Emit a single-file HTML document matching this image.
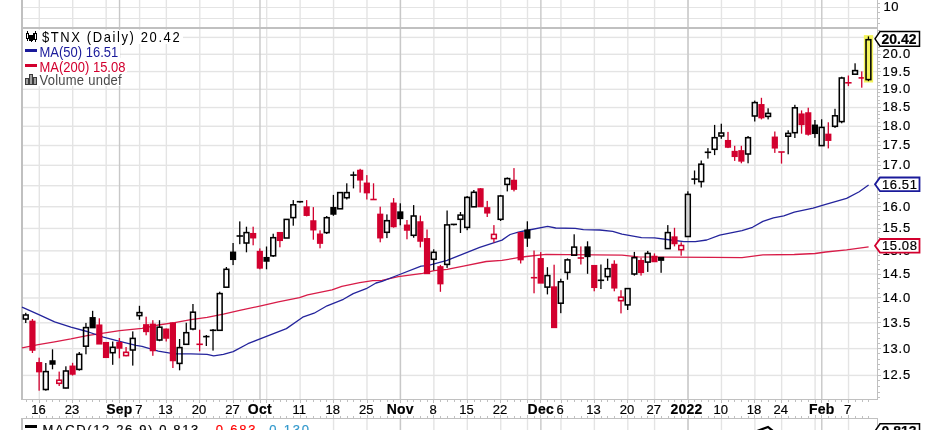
<!DOCTYPE html>
<html><head><meta charset="utf-8"><style>
html,body{margin:0;padding:0;background:#fff;}
body{width:936px;height:430px;position:relative;overflow:hidden;font-family:"Liberation Sans",sans-serif;}
.t{position:absolute;white-space:nowrap;line-height:1;}
svg text{stroke-width:0.2px;paint-order:stroke;}
</style></head><body>
<svg width="936" height="430" viewBox="0 0 936 430" style="position:absolute;left:0;top:0;will-change:transform">
<g shape-rendering="crispEdges">
<rect x="22" y="374.71" width="856" height="1.4" fill="#e4e4e4" shape-rendering="auto"/>
<rect x="22" y="347.91" width="856" height="1.4" fill="#e4e4e4" shape-rendering="auto"/>
<rect x="22" y="322.13" width="856" height="1.4" fill="#e4e4e4" shape-rendering="auto"/>
<rect x="22" y="297.28" width="856" height="1.4" fill="#e4e4e4" shape-rendering="auto"/>
<rect x="22" y="273.30" width="856" height="1.4" fill="#e4e4e4" shape-rendering="auto"/>
<rect x="22" y="250.14" width="856" height="1.4" fill="#e4e4e4" shape-rendering="auto"/>
<rect x="22" y="227.73" width="856" height="1.4" fill="#e4e4e4" shape-rendering="auto"/>
<rect x="22" y="206.04" width="856" height="1.4" fill="#e4e4e4" shape-rendering="auto"/>
<rect x="22" y="185.02" width="856" height="1.4" fill="#e4e4e4" shape-rendering="auto"/>
<rect x="22" y="164.62" width="856" height="1.4" fill="#e4e4e4" shape-rendering="auto"/>
<rect x="22" y="144.81" width="856" height="1.4" fill="#e4e4e4" shape-rendering="auto"/>
<rect x="22" y="125.56" width="856" height="1.4" fill="#e4e4e4" shape-rendering="auto"/>
<rect x="22" y="106.84" width="856" height="1.4" fill="#e4e4e4" shape-rendering="auto"/>
<rect x="22" y="88.62" width="856" height="1.4" fill="#e4e4e4" shape-rendering="auto"/>
<rect x="22" y="70.87" width="856" height="1.4" fill="#e4e4e4" shape-rendering="auto"/>
<rect x="22" y="53.58" width="856" height="1.4" fill="#e4e4e4" shape-rendering="auto"/>
<rect x="22" y="36.70" width="856" height="1.4" fill="#e4e4e4" shape-rendering="auto"/>
<rect x="22" y="7" width="856" height="1" fill="#e4e4e4"/>
<rect x="22" y="18" width="856" height="1" fill="#e4e4e4"/>
</g><g>
<rect x="38.58" y="0" width="1.4" height="399" fill="#e4e4e4"/>
<rect x="38.58" y="418" width="1.4" height="12" fill="#e4e4e4"/>
<rect x="72.02" y="0" width="1.4" height="399" fill="#e4e4e4"/>
<rect x="72.02" y="418" width="1.4" height="12" fill="#e4e4e4"/>
<rect x="105.46" y="0" width="1.4" height="399" fill="#e4e4e4"/>
<rect x="105.46" y="418" width="1.4" height="12" fill="#e4e4e4"/>
<rect x="138.90" y="0" width="1.4" height="399" fill="#e4e4e4"/>
<rect x="138.90" y="418" width="1.4" height="12" fill="#e4e4e4"/>
<rect x="165.65" y="0" width="1.4" height="399" fill="#e4e4e4"/>
<rect x="165.65" y="418" width="1.4" height="12" fill="#e4e4e4"/>
<rect x="199.09" y="0" width="1.4" height="399" fill="#e4e4e4"/>
<rect x="199.09" y="418" width="1.4" height="12" fill="#e4e4e4"/>
<rect x="232.53" y="0" width="1.4" height="399" fill="#e4e4e4"/>
<rect x="232.53" y="418" width="1.4" height="12" fill="#e4e4e4"/>
<rect x="265.97" y="0" width="1.4" height="399" fill="#e4e4e4"/>
<rect x="265.97" y="418" width="1.4" height="12" fill="#e4e4e4"/>
<rect x="299.41" y="0" width="1.4" height="399" fill="#e4e4e4"/>
<rect x="299.41" y="418" width="1.4" height="12" fill="#e4e4e4"/>
<rect x="332.85" y="0" width="1.4" height="399" fill="#e4e4e4"/>
<rect x="332.85" y="418" width="1.4" height="12" fill="#e4e4e4"/>
<rect x="366.29" y="0" width="1.4" height="399" fill="#e4e4e4"/>
<rect x="366.29" y="418" width="1.4" height="12" fill="#e4e4e4"/>
<rect x="399.73" y="0" width="1.4" height="399" fill="#e4e4e4"/>
<rect x="399.73" y="418" width="1.4" height="12" fill="#e4e4e4"/>
<rect x="433.17" y="0" width="1.4" height="399" fill="#e4e4e4"/>
<rect x="433.17" y="418" width="1.4" height="12" fill="#e4e4e4"/>
<rect x="466.61" y="0" width="1.4" height="399" fill="#e4e4e4"/>
<rect x="466.61" y="418" width="1.4" height="12" fill="#e4e4e4"/>
<rect x="500.05" y="0" width="1.4" height="399" fill="#e4e4e4"/>
<rect x="500.05" y="418" width="1.4" height="12" fill="#e4e4e4"/>
<rect x="526.80" y="0" width="1.4" height="399" fill="#e4e4e4"/>
<rect x="526.80" y="418" width="1.4" height="12" fill="#e4e4e4"/>
<rect x="560.24" y="0" width="1.4" height="399" fill="#e4e4e4"/>
<rect x="560.24" y="418" width="1.4" height="12" fill="#e4e4e4"/>
<rect x="593.68" y="0" width="1.4" height="399" fill="#e4e4e4"/>
<rect x="593.68" y="418" width="1.4" height="12" fill="#e4e4e4"/>
<rect x="627.12" y="0" width="1.4" height="399" fill="#e4e4e4"/>
<rect x="627.12" y="418" width="1.4" height="12" fill="#e4e4e4"/>
<rect x="653.88" y="0" width="1.4" height="399" fill="#e4e4e4"/>
<rect x="653.88" y="418" width="1.4" height="12" fill="#e4e4e4"/>
<rect x="687.32" y="0" width="1.4" height="399" fill="#e4e4e4"/>
<rect x="687.32" y="418" width="1.4" height="12" fill="#e4e4e4"/>
<rect x="720.76" y="0" width="1.4" height="399" fill="#e4e4e4"/>
<rect x="720.76" y="418" width="1.4" height="12" fill="#e4e4e4"/>
<rect x="754.20" y="0" width="1.4" height="399" fill="#e4e4e4"/>
<rect x="754.20" y="418" width="1.4" height="12" fill="#e4e4e4"/>
<rect x="780.95" y="0" width="1.4" height="399" fill="#e4e4e4"/>
<rect x="780.95" y="418" width="1.4" height="12" fill="#e4e4e4"/>
<rect x="814.39" y="0" width="1.4" height="399" fill="#e4e4e4"/>
<rect x="814.39" y="418" width="1.4" height="12" fill="#e4e4e4"/>
<rect x="847.83" y="0" width="1.4" height="399" fill="#e4e4e4"/>
<rect x="847.83" y="418" width="1.4" height="12" fill="#e4e4e4"/>
<rect x="118.84" y="0" width="1.4" height="399" fill="#c8c8c8"/>
<rect x="118.84" y="418" width="1.4" height="12" fill="#c8c8c8"/>
<rect x="259.28" y="0" width="1.4" height="399" fill="#c8c8c8"/>
<rect x="259.28" y="418" width="1.4" height="12" fill="#c8c8c8"/>
<rect x="399.73" y="0" width="1.4" height="399" fill="#c8c8c8"/>
<rect x="399.73" y="418" width="1.4" height="12" fill="#c8c8c8"/>
<rect x="540.18" y="0" width="1.4" height="399" fill="#c8c8c8"/>
<rect x="540.18" y="418" width="1.4" height="12" fill="#c8c8c8"/>
<rect x="687.32" y="0" width="1.4" height="399" fill="#c8c8c8"/>
<rect x="687.32" y="418" width="1.4" height="12" fill="#c8c8c8"/>
<rect x="821.08" y="0" width="1.4" height="399" fill="#c8c8c8"/>
<rect x="821.08" y="418" width="1.4" height="12" fill="#c8c8c8"/>
</g><g shape-rendering="crispEdges">
<rect x="21" y="0" width="2" height="400" fill="#c0c0c0"/>
<rect x="877" y="0" width="1" height="400" fill="#c0c0c0"/>
<rect x="22" y="27" width="856" height="2" fill="#c0c0c0"/>
<rect x="22" y="399" width="856" height="1" fill="#c0c0c0"/>
<rect x="21" y="418" width="857" height="1" fill="#c0c0c0"/>
<rect x="21" y="418" width="2" height="12" fill="#c0c0c0"/>
<rect x="877" y="418" width="1" height="12" fill="#c0c0c0"/>
<rect x="26" y="400" width="1" height="2" fill="#c0c0c0"/>
<rect x="26" y="416" width="1" height="2" fill="#c0c0c0"/>
<rect x="32" y="400" width="1" height="2" fill="#c0c0c0"/>
<rect x="32" y="416" width="1" height="2" fill="#c0c0c0"/>
<rect x="39" y="400" width="1" height="3" fill="#c0c0c0"/>
<rect x="39" y="415" width="1" height="3" fill="#c0c0c0"/>
<rect x="46" y="400" width="1" height="2" fill="#c0c0c0"/>
<rect x="46" y="416" width="1" height="2" fill="#c0c0c0"/>
<rect x="52" y="400" width="1" height="2" fill="#c0c0c0"/>
<rect x="52" y="416" width="1" height="2" fill="#c0c0c0"/>
<rect x="59" y="400" width="1" height="2" fill="#c0c0c0"/>
<rect x="59" y="416" width="1" height="2" fill="#c0c0c0"/>
<rect x="66" y="400" width="1" height="2" fill="#c0c0c0"/>
<rect x="66" y="416" width="1" height="2" fill="#c0c0c0"/>
<rect x="72" y="400" width="1" height="3" fill="#c0c0c0"/>
<rect x="72" y="415" width="1" height="3" fill="#c0c0c0"/>
<rect x="79" y="400" width="1" height="2" fill="#c0c0c0"/>
<rect x="79" y="416" width="1" height="2" fill="#c0c0c0"/>
<rect x="86" y="400" width="1" height="2" fill="#c0c0c0"/>
<rect x="86" y="416" width="1" height="2" fill="#c0c0c0"/>
<rect x="92" y="400" width="1" height="2" fill="#c0c0c0"/>
<rect x="92" y="416" width="1" height="2" fill="#c0c0c0"/>
<rect x="99" y="400" width="1" height="2" fill="#c0c0c0"/>
<rect x="99" y="416" width="1" height="2" fill="#c0c0c0"/>
<rect x="106" y="400" width="1" height="3" fill="#c0c0c0"/>
<rect x="106" y="415" width="1" height="3" fill="#c0c0c0"/>
<rect x="112" y="400" width="1" height="2" fill="#c0c0c0"/>
<rect x="112" y="416" width="1" height="2" fill="#c0c0c0"/>
<rect x="119" y="400" width="1" height="3" fill="#c0c0c0"/>
<rect x="119" y="415" width="1" height="3" fill="#c0c0c0"/>
<rect x="126" y="400" width="1" height="2" fill="#c0c0c0"/>
<rect x="126" y="416" width="1" height="2" fill="#c0c0c0"/>
<rect x="133" y="400" width="1" height="2" fill="#c0c0c0"/>
<rect x="133" y="416" width="1" height="2" fill="#c0c0c0"/>
<rect x="139" y="400" width="1" height="3" fill="#c0c0c0"/>
<rect x="139" y="415" width="1" height="3" fill="#c0c0c0"/>
<rect x="146" y="400" width="1" height="2" fill="#c0c0c0"/>
<rect x="146" y="416" width="1" height="2" fill="#c0c0c0"/>
<rect x="153" y="400" width="1" height="2" fill="#c0c0c0"/>
<rect x="153" y="416" width="1" height="2" fill="#c0c0c0"/>
<rect x="159" y="400" width="1" height="2" fill="#c0c0c0"/>
<rect x="159" y="416" width="1" height="2" fill="#c0c0c0"/>
<rect x="166" y="400" width="1" height="3" fill="#c0c0c0"/>
<rect x="166" y="415" width="1" height="3" fill="#c0c0c0"/>
<rect x="173" y="400" width="1" height="2" fill="#c0c0c0"/>
<rect x="173" y="416" width="1" height="2" fill="#c0c0c0"/>
<rect x="179" y="400" width="1" height="2" fill="#c0c0c0"/>
<rect x="179" y="416" width="1" height="2" fill="#c0c0c0"/>
<rect x="186" y="400" width="1" height="2" fill="#c0c0c0"/>
<rect x="186" y="416" width="1" height="2" fill="#c0c0c0"/>
<rect x="193" y="400" width="1" height="2" fill="#c0c0c0"/>
<rect x="193" y="416" width="1" height="2" fill="#c0c0c0"/>
<rect x="199" y="400" width="1" height="3" fill="#c0c0c0"/>
<rect x="199" y="415" width="1" height="3" fill="#c0c0c0"/>
<rect x="206" y="400" width="1" height="2" fill="#c0c0c0"/>
<rect x="206" y="416" width="1" height="2" fill="#c0c0c0"/>
<rect x="213" y="400" width="1" height="2" fill="#c0c0c0"/>
<rect x="213" y="416" width="1" height="2" fill="#c0c0c0"/>
<rect x="219" y="400" width="1" height="2" fill="#c0c0c0"/>
<rect x="219" y="416" width="1" height="2" fill="#c0c0c0"/>
<rect x="226" y="400" width="1" height="2" fill="#c0c0c0"/>
<rect x="226" y="416" width="1" height="2" fill="#c0c0c0"/>
<rect x="233" y="400" width="1" height="3" fill="#c0c0c0"/>
<rect x="233" y="415" width="1" height="3" fill="#c0c0c0"/>
<rect x="240" y="400" width="1" height="2" fill="#c0c0c0"/>
<rect x="240" y="416" width="1" height="2" fill="#c0c0c0"/>
<rect x="246" y="400" width="1" height="2" fill="#c0c0c0"/>
<rect x="246" y="416" width="1" height="2" fill="#c0c0c0"/>
<rect x="253" y="400" width="1" height="2" fill="#c0c0c0"/>
<rect x="253" y="416" width="1" height="2" fill="#c0c0c0"/>
<rect x="260" y="400" width="1" height="3" fill="#c0c0c0"/>
<rect x="260" y="415" width="1" height="3" fill="#c0c0c0"/>
<rect x="266" y="400" width="1" height="3" fill="#c0c0c0"/>
<rect x="266" y="415" width="1" height="3" fill="#c0c0c0"/>
<rect x="273" y="400" width="1" height="2" fill="#c0c0c0"/>
<rect x="273" y="416" width="1" height="2" fill="#c0c0c0"/>
<rect x="280" y="400" width="1" height="2" fill="#c0c0c0"/>
<rect x="280" y="416" width="1" height="2" fill="#c0c0c0"/>
<rect x="286" y="400" width="1" height="2" fill="#c0c0c0"/>
<rect x="286" y="416" width="1" height="2" fill="#c0c0c0"/>
<rect x="293" y="400" width="1" height="2" fill="#c0c0c0"/>
<rect x="293" y="416" width="1" height="2" fill="#c0c0c0"/>
<rect x="300" y="400" width="1" height="3" fill="#c0c0c0"/>
<rect x="300" y="415" width="1" height="3" fill="#c0c0c0"/>
<rect x="306" y="400" width="1" height="2" fill="#c0c0c0"/>
<rect x="306" y="416" width="1" height="2" fill="#c0c0c0"/>
<rect x="313" y="400" width="1" height="2" fill="#c0c0c0"/>
<rect x="313" y="416" width="1" height="2" fill="#c0c0c0"/>
<rect x="320" y="400" width="1" height="2" fill="#c0c0c0"/>
<rect x="320" y="416" width="1" height="2" fill="#c0c0c0"/>
<rect x="326" y="400" width="1" height="2" fill="#c0c0c0"/>
<rect x="326" y="416" width="1" height="2" fill="#c0c0c0"/>
<rect x="333" y="400" width="1" height="3" fill="#c0c0c0"/>
<rect x="333" y="415" width="1" height="3" fill="#c0c0c0"/>
<rect x="340" y="400" width="1" height="2" fill="#c0c0c0"/>
<rect x="340" y="416" width="1" height="2" fill="#c0c0c0"/>
<rect x="347" y="400" width="1" height="2" fill="#c0c0c0"/>
<rect x="347" y="416" width="1" height="2" fill="#c0c0c0"/>
<rect x="353" y="400" width="1" height="2" fill="#c0c0c0"/>
<rect x="353" y="416" width="1" height="2" fill="#c0c0c0"/>
<rect x="360" y="400" width="1" height="2" fill="#c0c0c0"/>
<rect x="360" y="416" width="1" height="2" fill="#c0c0c0"/>
<rect x="367" y="400" width="1" height="3" fill="#c0c0c0"/>
<rect x="367" y="415" width="1" height="3" fill="#c0c0c0"/>
<rect x="373" y="400" width="1" height="2" fill="#c0c0c0"/>
<rect x="373" y="416" width="1" height="2" fill="#c0c0c0"/>
<rect x="380" y="400" width="1" height="2" fill="#c0c0c0"/>
<rect x="380" y="416" width="1" height="2" fill="#c0c0c0"/>
<rect x="387" y="400" width="1" height="2" fill="#c0c0c0"/>
<rect x="387" y="416" width="1" height="2" fill="#c0c0c0"/>
<rect x="393" y="400" width="1" height="2" fill="#c0c0c0"/>
<rect x="393" y="416" width="1" height="2" fill="#c0c0c0"/>
<rect x="400" y="400" width="1" height="3" fill="#c0c0c0"/>
<rect x="400" y="415" width="1" height="3" fill="#c0c0c0"/>
<rect x="407" y="400" width="1" height="2" fill="#c0c0c0"/>
<rect x="407" y="416" width="1" height="2" fill="#c0c0c0"/>
<rect x="413" y="400" width="1" height="2" fill="#c0c0c0"/>
<rect x="413" y="416" width="1" height="2" fill="#c0c0c0"/>
<rect x="420" y="400" width="1" height="2" fill="#c0c0c0"/>
<rect x="420" y="416" width="1" height="2" fill="#c0c0c0"/>
<rect x="427" y="400" width="1" height="2" fill="#c0c0c0"/>
<rect x="427" y="416" width="1" height="2" fill="#c0c0c0"/>
<rect x="433" y="400" width="1" height="3" fill="#c0c0c0"/>
<rect x="433" y="415" width="1" height="3" fill="#c0c0c0"/>
<rect x="440" y="400" width="1" height="2" fill="#c0c0c0"/>
<rect x="440" y="416" width="1" height="2" fill="#c0c0c0"/>
<rect x="447" y="400" width="1" height="2" fill="#c0c0c0"/>
<rect x="447" y="416" width="1" height="2" fill="#c0c0c0"/>
<rect x="454" y="400" width="1" height="2" fill="#c0c0c0"/>
<rect x="454" y="416" width="1" height="2" fill="#c0c0c0"/>
<rect x="460" y="400" width="1" height="2" fill="#c0c0c0"/>
<rect x="460" y="416" width="1" height="2" fill="#c0c0c0"/>
<rect x="467" y="400" width="1" height="3" fill="#c0c0c0"/>
<rect x="467" y="415" width="1" height="3" fill="#c0c0c0"/>
<rect x="474" y="400" width="1" height="2" fill="#c0c0c0"/>
<rect x="474" y="416" width="1" height="2" fill="#c0c0c0"/>
<rect x="480" y="400" width="1" height="2" fill="#c0c0c0"/>
<rect x="480" y="416" width="1" height="2" fill="#c0c0c0"/>
<rect x="487" y="400" width="1" height="2" fill="#c0c0c0"/>
<rect x="487" y="416" width="1" height="2" fill="#c0c0c0"/>
<rect x="494" y="400" width="1" height="2" fill="#c0c0c0"/>
<rect x="494" y="416" width="1" height="2" fill="#c0c0c0"/>
<rect x="500" y="400" width="1" height="3" fill="#c0c0c0"/>
<rect x="500" y="415" width="1" height="3" fill="#c0c0c0"/>
<rect x="507" y="400" width="1" height="2" fill="#c0c0c0"/>
<rect x="507" y="416" width="1" height="2" fill="#c0c0c0"/>
<rect x="514" y="400" width="1" height="2" fill="#c0c0c0"/>
<rect x="514" y="416" width="1" height="2" fill="#c0c0c0"/>
<rect x="520" y="400" width="1" height="2" fill="#c0c0c0"/>
<rect x="520" y="416" width="1" height="2" fill="#c0c0c0"/>
<rect x="527" y="400" width="1" height="3" fill="#c0c0c0"/>
<rect x="527" y="415" width="1" height="3" fill="#c0c0c0"/>
<rect x="534" y="400" width="1" height="2" fill="#c0c0c0"/>
<rect x="534" y="416" width="1" height="2" fill="#c0c0c0"/>
<rect x="540" y="400" width="1" height="3" fill="#c0c0c0"/>
<rect x="540" y="415" width="1" height="3" fill="#c0c0c0"/>
<rect x="547" y="400" width="1" height="2" fill="#c0c0c0"/>
<rect x="547" y="416" width="1" height="2" fill="#c0c0c0"/>
<rect x="554" y="400" width="1" height="2" fill="#c0c0c0"/>
<rect x="554" y="416" width="1" height="2" fill="#c0c0c0"/>
<rect x="561" y="400" width="1" height="3" fill="#c0c0c0"/>
<rect x="561" y="415" width="1" height="3" fill="#c0c0c0"/>
<rect x="567" y="400" width="1" height="2" fill="#c0c0c0"/>
<rect x="567" y="416" width="1" height="2" fill="#c0c0c0"/>
<rect x="574" y="400" width="1" height="2" fill="#c0c0c0"/>
<rect x="574" y="416" width="1" height="2" fill="#c0c0c0"/>
<rect x="581" y="400" width="1" height="2" fill="#c0c0c0"/>
<rect x="581" y="416" width="1" height="2" fill="#c0c0c0"/>
<rect x="587" y="400" width="1" height="2" fill="#c0c0c0"/>
<rect x="587" y="416" width="1" height="2" fill="#c0c0c0"/>
<rect x="594" y="400" width="1" height="3" fill="#c0c0c0"/>
<rect x="594" y="415" width="1" height="3" fill="#c0c0c0"/>
<rect x="601" y="400" width="1" height="2" fill="#c0c0c0"/>
<rect x="601" y="416" width="1" height="2" fill="#c0c0c0"/>
<rect x="607" y="400" width="1" height="2" fill="#c0c0c0"/>
<rect x="607" y="416" width="1" height="2" fill="#c0c0c0"/>
<rect x="614" y="400" width="1" height="2" fill="#c0c0c0"/>
<rect x="614" y="416" width="1" height="2" fill="#c0c0c0"/>
<rect x="621" y="400" width="1" height="2" fill="#c0c0c0"/>
<rect x="621" y="416" width="1" height="2" fill="#c0c0c0"/>
<rect x="627" y="400" width="1" height="3" fill="#c0c0c0"/>
<rect x="627" y="415" width="1" height="3" fill="#c0c0c0"/>
<rect x="634" y="400" width="1" height="2" fill="#c0c0c0"/>
<rect x="634" y="416" width="1" height="2" fill="#c0c0c0"/>
<rect x="641" y="400" width="1" height="2" fill="#c0c0c0"/>
<rect x="641" y="416" width="1" height="2" fill="#c0c0c0"/>
<rect x="647" y="400" width="1" height="2" fill="#c0c0c0"/>
<rect x="647" y="416" width="1" height="2" fill="#c0c0c0"/>
<rect x="654" y="400" width="1" height="3" fill="#c0c0c0"/>
<rect x="654" y="415" width="1" height="3" fill="#c0c0c0"/>
<rect x="661" y="400" width="1" height="2" fill="#c0c0c0"/>
<rect x="661" y="416" width="1" height="2" fill="#c0c0c0"/>
<rect x="668" y="400" width="1" height="2" fill="#c0c0c0"/>
<rect x="668" y="416" width="1" height="2" fill="#c0c0c0"/>
<rect x="674" y="400" width="1" height="2" fill="#c0c0c0"/>
<rect x="674" y="416" width="1" height="2" fill="#c0c0c0"/>
<rect x="681" y="400" width="1" height="2" fill="#c0c0c0"/>
<rect x="681" y="416" width="1" height="2" fill="#c0c0c0"/>
<rect x="688" y="400" width="1" height="3" fill="#c0c0c0"/>
<rect x="688" y="415" width="1" height="3" fill="#c0c0c0"/>
<rect x="694" y="400" width="1" height="2" fill="#c0c0c0"/>
<rect x="694" y="416" width="1" height="2" fill="#c0c0c0"/>
<rect x="701" y="400" width="1" height="2" fill="#c0c0c0"/>
<rect x="701" y="416" width="1" height="2" fill="#c0c0c0"/>
<rect x="708" y="400" width="1" height="2" fill="#c0c0c0"/>
<rect x="708" y="416" width="1" height="2" fill="#c0c0c0"/>
<rect x="714" y="400" width="1" height="2" fill="#c0c0c0"/>
<rect x="714" y="416" width="1" height="2" fill="#c0c0c0"/>
<rect x="721" y="400" width="1" height="3" fill="#c0c0c0"/>
<rect x="721" y="415" width="1" height="3" fill="#c0c0c0"/>
<rect x="728" y="400" width="1" height="2" fill="#c0c0c0"/>
<rect x="728" y="416" width="1" height="2" fill="#c0c0c0"/>
<rect x="734" y="400" width="1" height="2" fill="#c0c0c0"/>
<rect x="734" y="416" width="1" height="2" fill="#c0c0c0"/>
<rect x="741" y="400" width="1" height="2" fill="#c0c0c0"/>
<rect x="741" y="416" width="1" height="2" fill="#c0c0c0"/>
<rect x="748" y="400" width="1" height="2" fill="#c0c0c0"/>
<rect x="748" y="416" width="1" height="2" fill="#c0c0c0"/>
<rect x="754" y="400" width="1" height="3" fill="#c0c0c0"/>
<rect x="754" y="415" width="1" height="3" fill="#c0c0c0"/>
<rect x="761" y="400" width="1" height="2" fill="#c0c0c0"/>
<rect x="761" y="416" width="1" height="2" fill="#c0c0c0"/>
<rect x="768" y="400" width="1" height="2" fill="#c0c0c0"/>
<rect x="768" y="416" width="1" height="2" fill="#c0c0c0"/>
<rect x="775" y="400" width="1" height="2" fill="#c0c0c0"/>
<rect x="775" y="416" width="1" height="2" fill="#c0c0c0"/>
<rect x="781" y="400" width="1" height="3" fill="#c0c0c0"/>
<rect x="781" y="415" width="1" height="3" fill="#c0c0c0"/>
<rect x="788" y="400" width="1" height="2" fill="#c0c0c0"/>
<rect x="788" y="416" width="1" height="2" fill="#c0c0c0"/>
<rect x="795" y="400" width="1" height="2" fill="#c0c0c0"/>
<rect x="795" y="416" width="1" height="2" fill="#c0c0c0"/>
<rect x="801" y="400" width="1" height="2" fill="#c0c0c0"/>
<rect x="801" y="416" width="1" height="2" fill="#c0c0c0"/>
<rect x="808" y="400" width="1" height="2" fill="#c0c0c0"/>
<rect x="808" y="416" width="1" height="2" fill="#c0c0c0"/>
<rect x="815" y="400" width="1" height="3" fill="#c0c0c0"/>
<rect x="815" y="415" width="1" height="3" fill="#c0c0c0"/>
<rect x="821" y="400" width="1" height="3" fill="#c0c0c0"/>
<rect x="821" y="415" width="1" height="3" fill="#c0c0c0"/>
<rect x="828" y="400" width="1" height="2" fill="#c0c0c0"/>
<rect x="828" y="416" width="1" height="2" fill="#c0c0c0"/>
<rect x="835" y="400" width="1" height="2" fill="#c0c0c0"/>
<rect x="835" y="416" width="1" height="2" fill="#c0c0c0"/>
<rect x="841" y="400" width="1" height="2" fill="#c0c0c0"/>
<rect x="841" y="416" width="1" height="2" fill="#c0c0c0"/>
<rect x="848" y="400" width="1" height="3" fill="#c0c0c0"/>
<rect x="848" y="415" width="1" height="3" fill="#c0c0c0"/>
<rect x="855" y="400" width="1" height="2" fill="#c0c0c0"/>
<rect x="855" y="416" width="1" height="2" fill="#c0c0c0"/>
<rect x="862" y="400" width="1" height="2" fill="#c0c0c0"/>
<rect x="862" y="416" width="1" height="2" fill="#c0c0c0"/>
<rect x="868" y="400" width="1" height="2" fill="#c0c0c0"/>
<rect x="868" y="416" width="1" height="2" fill="#c0c0c0"/>
<rect x="878" y="397" width="2" height="1" fill="#c0c0c0"/>
<rect x="878" y="392" width="2" height="1" fill="#c0c0c0"/>
<rect x="878" y="386" width="2" height="1" fill="#c0c0c0"/>
<rect x="878" y="380" width="2" height="1" fill="#c0c0c0"/>
<rect x="878" y="375" width="3" height="1" fill="#c0c0c0"/>
<rect x="878" y="369" width="2" height="1" fill="#c0c0c0"/>
<rect x="878" y="364" width="2" height="1" fill="#c0c0c0"/>
<rect x="878" y="359" width="2" height="1" fill="#c0c0c0"/>
<rect x="878" y="353" width="2" height="1" fill="#c0c0c0"/>
<rect x="878" y="348" width="3" height="1" fill="#c0c0c0"/>
<rect x="878" y="343" width="2" height="1" fill="#c0c0c0"/>
<rect x="878" y="338" width="2" height="1" fill="#c0c0c0"/>
<rect x="878" y="333" width="2" height="1" fill="#c0c0c0"/>
<rect x="878" y="327" width="2" height="1" fill="#c0c0c0"/>
<rect x="878" y="322" width="3" height="1" fill="#c0c0c0"/>
<rect x="878" y="317" width="2" height="1" fill="#c0c0c0"/>
<rect x="878" y="312" width="2" height="1" fill="#c0c0c0"/>
<rect x="878" y="307" width="2" height="1" fill="#c0c0c0"/>
<rect x="878" y="302" width="2" height="1" fill="#c0c0c0"/>
<rect x="878" y="297" width="3" height="1" fill="#c0c0c0"/>
<rect x="878" y="293" width="2" height="1" fill="#c0c0c0"/>
<rect x="878" y="288" width="2" height="1" fill="#c0c0c0"/>
<rect x="878" y="283" width="2" height="1" fill="#c0c0c0"/>
<rect x="878" y="278" width="2" height="1" fill="#c0c0c0"/>
<rect x="878" y="274" width="3" height="1" fill="#c0c0c0"/>
<rect x="878" y="269" width="2" height="1" fill="#c0c0c0"/>
<rect x="878" y="264" width="2" height="1" fill="#c0c0c0"/>
<rect x="878" y="260" width="2" height="1" fill="#c0c0c0"/>
<rect x="878" y="255" width="2" height="1" fill="#c0c0c0"/>
<rect x="878" y="250" width="3" height="1" fill="#c0c0c0"/>
<rect x="878" y="246" width="2" height="1" fill="#c0c0c0"/>
<rect x="878" y="241" width="2" height="1" fill="#c0c0c0"/>
<rect x="878" y="237" width="2" height="1" fill="#c0c0c0"/>
<rect x="878" y="232" width="2" height="1" fill="#c0c0c0"/>
<rect x="878" y="228" width="3" height="1" fill="#c0c0c0"/>
<rect x="878" y="224" width="2" height="1" fill="#c0c0c0"/>
<rect x="878" y="219" width="2" height="1" fill="#c0c0c0"/>
<rect x="878" y="215" width="2" height="1" fill="#c0c0c0"/>
<rect x="878" y="211" width="2" height="1" fill="#c0c0c0"/>
<rect x="878" y="206" width="3" height="1" fill="#c0c0c0"/>
<rect x="878" y="202" width="2" height="1" fill="#c0c0c0"/>
<rect x="878" y="198" width="2" height="1" fill="#c0c0c0"/>
<rect x="878" y="194" width="2" height="1" fill="#c0c0c0"/>
<rect x="878" y="189" width="2" height="1" fill="#c0c0c0"/>
<rect x="878" y="185" width="3" height="1" fill="#c0c0c0"/>
<rect x="878" y="181" width="2" height="1" fill="#c0c0c0"/>
<rect x="878" y="177" width="2" height="1" fill="#c0c0c0"/>
<rect x="878" y="173" width="2" height="1" fill="#c0c0c0"/>
<rect x="878" y="169" width="2" height="1" fill="#c0c0c0"/>
<rect x="878" y="165" width="3" height="1" fill="#c0c0c0"/>
<rect x="878" y="161" width="2" height="1" fill="#c0c0c0"/>
<rect x="878" y="157" width="2" height="1" fill="#c0c0c0"/>
<rect x="878" y="153" width="2" height="1" fill="#c0c0c0"/>
<rect x="878" y="149" width="2" height="1" fill="#c0c0c0"/>
<rect x="878" y="145" width="3" height="1" fill="#c0c0c0"/>
<rect x="878" y="141" width="2" height="1" fill="#c0c0c0"/>
<rect x="878" y="137" width="2" height="1" fill="#c0c0c0"/>
<rect x="878" y="133" width="2" height="1" fill="#c0c0c0"/>
<rect x="878" y="130" width="2" height="1" fill="#c0c0c0"/>
<rect x="878" y="126" width="3" height="1" fill="#c0c0c0"/>
<rect x="878" y="122" width="2" height="1" fill="#c0c0c0"/>
<rect x="878" y="118" width="2" height="1" fill="#c0c0c0"/>
<rect x="878" y="114" width="2" height="1" fill="#c0c0c0"/>
<rect x="878" y="111" width="2" height="1" fill="#c0c0c0"/>
<rect x="878" y="107" width="3" height="1" fill="#c0c0c0"/>
<rect x="878" y="103" width="2" height="1" fill="#c0c0c0"/>
<rect x="878" y="100" width="2" height="1" fill="#c0c0c0"/>
<rect x="878" y="96" width="2" height="1" fill="#c0c0c0"/>
<rect x="878" y="92" width="2" height="1" fill="#c0c0c0"/>
<rect x="878" y="89" width="3" height="1" fill="#c0c0c0"/>
<rect x="878" y="85" width="2" height="1" fill="#c0c0c0"/>
<rect x="878" y="82" width="2" height="1" fill="#c0c0c0"/>
<rect x="878" y="78" width="2" height="1" fill="#c0c0c0"/>
<rect x="878" y="75" width="2" height="1" fill="#c0c0c0"/>
<rect x="878" y="71" width="3" height="1" fill="#c0c0c0"/>
<rect x="878" y="68" width="2" height="1" fill="#c0c0c0"/>
<rect x="878" y="64" width="2" height="1" fill="#c0c0c0"/>
<rect x="878" y="61" width="2" height="1" fill="#c0c0c0"/>
<rect x="878" y="57" width="2" height="1" fill="#c0c0c0"/>
<rect x="878" y="54" width="3" height="1" fill="#c0c0c0"/>
<rect x="878" y="50" width="2" height="1" fill="#c0c0c0"/>
<rect x="878" y="47" width="2" height="1" fill="#c0c0c0"/>
<rect x="878" y="44" width="2" height="1" fill="#c0c0c0"/>
<rect x="878" y="40" width="2" height="1" fill="#c0c0c0"/>
<rect x="878" y="37" width="3" height="1" fill="#c0c0c0"/>
<rect x="878" y="34" width="2" height="1" fill="#c0c0c0"/>
<rect x="878" y="30" width="2" height="1" fill="#c0c0c0"/>
<rect x="878" y="3" width="2" height="1" fill="#c0c0c0"/>
<rect x="878" y="7" width="2" height="1" fill="#c0c0c0"/>
<rect x="878" y="12" width="2" height="1" fill="#c0c0c0"/>
<rect x="878" y="18" width="2" height="1" fill="#c0c0c0"/>
<rect x="878" y="23" width="2" height="1" fill="#c0c0c0"/>
</g>
<polyline points="22.0,347.8 38.3,344.6 54.6,341.8 70.9,338.9 87.1,335.6 103.4,333.2 119.7,330.7 142.0,328.4 158.3,325.0 174.6,322.6 190.9,319.6 207.1,317.4 223.4,314.1 239.7,310.4 262.0,305.6 278.3,301.8 299.5,297.7 307.6,294.8 332.0,289.9 341.8,286.3 359.7,282.7 372.7,280.6 382.0,280.3 398.3,276.6 422.7,273.4 434.1,270.6 447.1,269.3 463.4,266.1 486.2,261.5 502.0,260.4 518.3,257.7 526.4,256.5 546.0,254.4 567.1,254.6 622.0,255.2 638.3,256.8 670.9,257.1 713.2,257.4 742.0,257.6 762.9,254.9 794.3,254.5 815.2,253.5 825.7,252.0 846.6,249.9 868.6,246.8" fill="none" stroke="#d81c48" stroke-width="1.3" stroke-linejoin="round"/>
<polyline points="22.0,307.1 38.3,314.4 54.6,321.8 70.9,327.1 87.1,331.5 103.4,337.2 119.7,341.3 136.0,345.4 142.0,346.4 158.3,351.1 174.6,353.8 190.9,353.8 207.1,354.3 213.7,355.8 223.4,354.3 233.2,351.6 247.9,343.7 262.0,338.2 286.4,328.6 302.7,317.2 314.1,313.2 327.1,305.8 343.4,299.3 353.2,293.6 366.2,288.7 376.0,283.0 382.0,281.3 398.3,275.0 421.1,266.1 427.6,265.7 447.1,260.4 463.4,253.8 479.7,247.3 502.0,240.1 510.1,234.5 518.3,232.1 526.4,230.5 547.6,226.4 555.7,228.0 575.3,228.4 583.4,229.7 599.7,230.0 612.7,231.3 622.0,234.1 641.5,237.6 654.6,237.9 670.9,240.0 683.9,241.6 695.3,241.6 706.7,240.0 719.7,235.1 742.0,230.6 752.5,227.3 762.9,221.4 773.4,217.9 783.8,215.8 794.3,212.2 813.1,208.1 825.7,204.3 846.6,198.4 859.2,191.7 868.6,185.0" fill="none" stroke="#24249c" stroke-width="1.3" stroke-linejoin="round"/>
<g>
<rect x="25.10" y="312.80" width="1.3" height="2.20" fill="#000000"/>
<rect x="25.10" y="319.00" width="1.3" height="4.00" fill="#000000"/>
<rect x="23.35" y="315.00" width="4.8" height="4.00" fill="none" stroke="#000000" stroke-width="1.55"/>
<rect x="31.79" y="319.00" width="1.3" height="2.40" fill="#d2002e"/>
<rect x="31.79" y="350.00" width="1.3" height="3.00" fill="#d2002e"/>
<rect x="29.34" y="320.65" width="6.2" height="30.10" fill="#d2002e"/>
<rect x="38.48" y="357.70" width="1.3" height="5.10" fill="#d2002e"/>
<rect x="38.48" y="371.60" width="1.3" height="19.10" fill="#d2002e"/>
<rect x="36.03" y="362.05" width="6.2" height="10.30" fill="#d2002e"/>
<rect x="45.17" y="363.00" width="1.3" height="8.60" fill="#000000"/>
<rect x="45.17" y="389.50" width="1.3" height="1.20" fill="#000000"/>
<rect x="43.42" y="371.60" width="4.8" height="17.90" fill="none" stroke="#000000" stroke-width="1.55"/>
<rect x="51.86" y="349.30" width="1.3" height="11.70" fill="#000000"/>
<rect x="51.86" y="364.00" width="1.3" height="5.30" fill="#000000"/>
<rect x="49.41" y="360.25" width="6.2" height="4.50" fill="#000000"/>
<rect x="58.54" y="371.60" width="1.3" height="8.60" fill="#d2002e"/>
<rect x="58.54" y="383.30" width="1.3" height="2.70" fill="#d2002e"/>
<rect x="56.79" y="380.20" width="4.8" height="3.10" fill="none" stroke="#d2002e" stroke-width="1.55"/>
<rect x="65.23" y="366.30" width="1.3" height="4.70" fill="#000000"/>
<rect x="65.23" y="388.00" width="1.3" height="0.40" fill="#000000"/>
<rect x="63.48" y="371.00" width="4.8" height="17.00" fill="none" stroke="#000000" stroke-width="1.55"/>
<rect x="71.92" y="362.80" width="1.3" height="3.50" fill="#d2002e"/>
<rect x="71.92" y="374.00" width="1.3" height="1.60" fill="#d2002e"/>
<rect x="69.47" y="365.55" width="6.2" height="9.20" fill="#d2002e"/>
<rect x="78.61" y="352.00" width="1.3" height="2.30" fill="#000000"/>
<rect x="78.61" y="369.40" width="1.3" height="1.20" fill="#000000"/>
<rect x="76.86" y="354.30" width="4.8" height="15.10" fill="none" stroke="#000000" stroke-width="1.55"/>
<rect x="85.30" y="322.90" width="1.3" height="4.70" fill="#000000"/>
<rect x="85.30" y="346.20" width="1.3" height="8.10" fill="#000000"/>
<rect x="83.55" y="327.60" width="4.8" height="18.60" fill="none" stroke="#000000" stroke-width="1.55"/>
<rect x="91.98" y="310.80" width="1.3" height="7.00" fill="#000000"/>
<rect x="89.53" y="317.05" width="6.2" height="11.30" fill="#000000"/>
<rect x="98.67" y="318.30" width="1.3" height="6.90" fill="#d2002e"/>
<rect x="96.22" y="324.45" width="6.2" height="20.10" fill="#d2002e"/>
<rect x="102.91" y="341.95" width="6.2" height="16.10" fill="#d2002e"/>
<rect x="112.05" y="341.50" width="1.3" height="5.80" fill="#000000"/>
<rect x="112.05" y="352.70" width="1.3" height="12.10" fill="#000000"/>
<rect x="110.30" y="347.30" width="4.8" height="5.40" fill="none" stroke="#000000" stroke-width="1.55"/>
<rect x="118.74" y="338.00" width="1.3" height="4.70" fill="#d2002e"/>
<rect x="118.74" y="348.00" width="1.3" height="10.30" fill="#d2002e"/>
<rect x="116.29" y="341.95" width="6.2" height="6.80" fill="#d2002e"/>
<rect x="125.42" y="347.00" width="1.3" height="5.30" fill="#d2002e"/>
<rect x="125.42" y="355.60" width="1.3" height="0.70" fill="#d2002e"/>
<rect x="123.67" y="352.30" width="4.8" height="3.30" fill="none" stroke="#d2002e" stroke-width="1.55"/>
<rect x="132.11" y="331.40" width="1.3" height="7.00" fill="#000000"/>
<rect x="132.11" y="350.00" width="1.3" height="15.60" fill="#000000"/>
<rect x="130.36" y="338.40" width="4.8" height="11.60" fill="none" stroke="#000000" stroke-width="1.55"/>
<rect x="138.80" y="305.80" width="1.3" height="6.80" fill="#000000"/>
<rect x="138.80" y="315.60" width="1.3" height="4.20" fill="#000000"/>
<rect x="137.05" y="312.60" width="4.8" height="3.00" fill="none" stroke="#000000" stroke-width="1.55"/>
<rect x="145.49" y="316.70" width="1.3" height="8.20" fill="#d2002e"/>
<rect x="145.49" y="331.40" width="1.3" height="3.90" fill="#d2002e"/>
<rect x="143.04" y="324.15" width="6.2" height="8.00" fill="#d2002e"/>
<rect x="152.18" y="320.20" width="1.3" height="4.20" fill="#d2002e"/>
<rect x="152.18" y="350.50" width="1.3" height="5.30" fill="#d2002e"/>
<rect x="149.73" y="323.65" width="6.2" height="27.60" fill="#d2002e"/>
<rect x="158.86" y="320.20" width="1.3" height="7.00" fill="#000000"/>
<rect x="158.86" y="340.00" width="1.3" height="1.20" fill="#000000"/>
<rect x="157.11" y="327.20" width="4.8" height="12.80" fill="none" stroke="#000000" stroke-width="1.55"/>
<rect x="165.55" y="328.50" width="1.3" height="0.80" fill="#d2002e"/>
<rect x="165.55" y="338.00" width="1.3" height="3.50" fill="#d2002e"/>
<rect x="163.10" y="328.55" width="6.2" height="10.20" fill="#d2002e"/>
<rect x="172.24" y="322.60" width="1.3" height="0.60" fill="#d2002e"/>
<rect x="172.24" y="360.50" width="1.3" height="7.50" fill="#d2002e"/>
<rect x="169.79" y="322.45" width="6.2" height="38.80" fill="#d2002e"/>
<rect x="178.93" y="339.00" width="1.3" height="8.60" fill="#000000"/>
<rect x="178.93" y="363.40" width="1.3" height="6.90" fill="#000000"/>
<rect x="177.18" y="347.60" width="4.8" height="15.80" fill="none" stroke="#000000" stroke-width="1.55"/>
<rect x="185.62" y="322.70" width="1.3" height="10.00" fill="#000000"/>
<rect x="185.62" y="344.30" width="1.3" height="0.50" fill="#000000"/>
<rect x="183.87" y="332.70" width="4.8" height="11.60" fill="none" stroke="#000000" stroke-width="1.55"/>
<rect x="192.30" y="304.00" width="1.3" height="8.20" fill="#000000"/>
<rect x="192.30" y="329.00" width="1.3" height="1.30" fill="#000000"/>
<rect x="190.55" y="312.20" width="4.8" height="16.80" fill="none" stroke="#000000" stroke-width="1.55"/>
<rect x="198.99" y="329.70" width="1.3" height="21.60" fill="#d2002e"/>
<rect x="196.44" y="343.50" width="6.4" height="1.6" fill="#d2002e"/>
<rect x="205.68" y="335.00" width="1.3" height="11.00" fill="#000000"/>
<rect x="203.13" y="335.80" width="6.4" height="1.6" fill="#000000"/>
<rect x="212.37" y="329.00" width="1.3" height="21.60" fill="#000000"/>
<rect x="209.82" y="329.50" width="6.4" height="1.6" fill="#000000"/>
<rect x="219.06" y="291.70" width="1.3" height="1.90" fill="#000000"/>
<rect x="217.31" y="293.60" width="4.8" height="36.70" fill="none" stroke="#000000" stroke-width="1.55"/>
<rect x="225.74" y="267.00" width="1.3" height="2.30" fill="#000000"/>
<rect x="223.99" y="269.30" width="4.8" height="17.90" fill="none" stroke="#000000" stroke-width="1.55"/>
<rect x="232.43" y="243.00" width="1.3" height="9.30" fill="#000000"/>
<rect x="232.43" y="259.30" width="1.3" height="5.80" fill="#000000"/>
<rect x="229.98" y="251.55" width="6.2" height="8.50" fill="#000000"/>
<rect x="239.12" y="221.40" width="1.3" height="22.80" fill="#000000"/>
<rect x="236.57" y="235.20" width="6.4" height="1.6" fill="#000000"/>
<rect x="245.81" y="226.70" width="1.3" height="5.90" fill="#000000"/>
<rect x="245.81" y="243.00" width="1.3" height="9.30" fill="#000000"/>
<rect x="244.06" y="232.60" width="4.8" height="10.40" fill="none" stroke="#000000" stroke-width="1.55"/>
<rect x="252.50" y="226.70" width="1.3" height="7.00" fill="#d2002e"/>
<rect x="252.50" y="237.70" width="1.3" height="7.60" fill="#d2002e"/>
<rect x="250.05" y="232.95" width="6.2" height="5.50" fill="#d2002e"/>
<rect x="259.18" y="248.40" width="1.3" height="3.20" fill="#d2002e"/>
<rect x="259.18" y="267.90" width="1.3" height="1.40" fill="#d2002e"/>
<rect x="256.73" y="250.85" width="6.2" height="17.80" fill="#d2002e"/>
<rect x="265.87" y="246.50" width="1.3" height="11.20" fill="#000000"/>
<rect x="265.87" y="261.00" width="1.3" height="8.30" fill="#000000"/>
<rect x="263.42" y="256.95" width="6.2" height="4.80" fill="#000000"/>
<rect x="272.56" y="233.70" width="1.3" height="4.00" fill="#000000"/>
<rect x="272.56" y="255.80" width="1.3" height="1.20" fill="#000000"/>
<rect x="270.81" y="237.70" width="4.8" height="18.10" fill="none" stroke="#000000" stroke-width="1.55"/>
<rect x="279.25" y="240.30" width="1.3" height="7.00" fill="#d2002e"/>
<rect x="276.80" y="231.95" width="6.2" height="9.10" fill="#d2002e"/>
<rect x="284.19" y="219.40" width="4.8" height="18.60" fill="none" stroke="#000000" stroke-width="1.55"/>
<rect x="292.62" y="200.10" width="1.3" height="4.70" fill="#000000"/>
<rect x="292.62" y="217.60" width="1.3" height="8.10" fill="#000000"/>
<rect x="290.87" y="204.80" width="4.8" height="12.80" fill="none" stroke="#000000" stroke-width="1.55"/>
<rect x="299.31" y="201.70" width="1.3" height="1.00" fill="#000000"/>
<rect x="296.76" y="200.90" width="6.4" height="1.6" fill="#000000"/>
<rect x="306.00" y="200.10" width="1.3" height="7.00" fill="#d2002e"/>
<rect x="306.00" y="215.20" width="1.3" height="1.20" fill="#d2002e"/>
<rect x="303.55" y="206.35" width="6.2" height="9.60" fill="#d2002e"/>
<rect x="312.69" y="207.10" width="1.3" height="13.90" fill="#d2002e"/>
<rect x="312.69" y="229.70" width="1.3" height="10.00" fill="#d2002e"/>
<rect x="310.24" y="220.25" width="6.2" height="10.20" fill="#d2002e"/>
<rect x="319.38" y="230.30" width="1.3" height="4.00" fill="#d2002e"/>
<rect x="319.38" y="243.10" width="1.3" height="5.20" fill="#d2002e"/>
<rect x="316.93" y="233.55" width="6.2" height="10.30" fill="#d2002e"/>
<rect x="326.06" y="216.00" width="1.3" height="1.70" fill="#000000"/>
<rect x="326.06" y="232.60" width="1.3" height="1.40" fill="#000000"/>
<rect x="324.31" y="217.70" width="4.8" height="14.90" fill="none" stroke="#000000" stroke-width="1.55"/>
<rect x="332.75" y="194.90" width="1.3" height="12.80" fill="#000000"/>
<rect x="332.75" y="214.00" width="1.3" height="1.80" fill="#000000"/>
<rect x="330.30" y="206.95" width="6.2" height="7.80" fill="#000000"/>
<rect x="337.69" y="192.60" width="4.8" height="16.20" fill="none" stroke="#000000" stroke-width="1.55"/>
<rect x="346.13" y="183.30" width="1.3" height="9.30" fill="#000000"/>
<rect x="346.13" y="197.70" width="1.3" height="1.80" fill="#000000"/>
<rect x="344.38" y="192.60" width="4.8" height="5.10" fill="none" stroke="#000000" stroke-width="1.55"/>
<rect x="352.82" y="171.60" width="1.3" height="16.80" fill="#000000"/>
<rect x="350.27" y="174.30" width="6.4" height="1.6" fill="#000000"/>
<rect x="359.50" y="168.80" width="1.3" height="1.70" fill="#d2002e"/>
<rect x="359.50" y="179.80" width="1.3" height="12.80" fill="#d2002e"/>
<rect x="357.05" y="169.75" width="6.2" height="10.80" fill="#d2002e"/>
<rect x="366.19" y="175.10" width="1.3" height="8.20" fill="#d2002e"/>
<rect x="366.19" y="192.60" width="1.3" height="6.90" fill="#d2002e"/>
<rect x="363.74" y="182.55" width="6.2" height="10.80" fill="#d2002e"/>
<rect x="372.88" y="183.30" width="1.3" height="16.20" fill="#d2002e"/>
<rect x="370.33" y="198.70" width="6.4" height="1.6" fill="#d2002e"/>
<rect x="379.57" y="206.70" width="1.3" height="7.70" fill="#d2002e"/>
<rect x="379.57" y="237.70" width="1.3" height="4.60" fill="#d2002e"/>
<rect x="377.12" y="213.65" width="6.2" height="24.80" fill="#d2002e"/>
<rect x="386.26" y="214.40" width="1.3" height="6.30" fill="#000000"/>
<rect x="386.26" y="232.30" width="1.3" height="5.80" fill="#000000"/>
<rect x="384.51" y="220.70" width="4.8" height="11.60" fill="none" stroke="#000000" stroke-width="1.55"/>
<rect x="392.94" y="198.10" width="1.3" height="5.20" fill="#d2002e"/>
<rect x="392.94" y="226.50" width="1.3" height="1.20" fill="#d2002e"/>
<rect x="390.49" y="202.55" width="6.2" height="24.70" fill="#d2002e"/>
<rect x="399.63" y="203.30" width="1.3" height="8.80" fill="#000000"/>
<rect x="399.63" y="218.40" width="1.3" height="6.90" fill="#000000"/>
<rect x="397.18" y="211.35" width="6.2" height="7.80" fill="#000000"/>
<rect x="406.32" y="220.00" width="1.3" height="5.30" fill="#d2002e"/>
<rect x="406.32" y="230.00" width="1.3" height="9.30" fill="#d2002e"/>
<rect x="403.87" y="224.55" width="6.2" height="6.20" fill="#d2002e"/>
<rect x="413.01" y="205.10" width="1.3" height="10.90" fill="#000000"/>
<rect x="413.01" y="235.30" width="1.3" height="2.40" fill="#000000"/>
<rect x="411.26" y="216.00" width="4.8" height="19.30" fill="none" stroke="#000000" stroke-width="1.55"/>
<rect x="419.70" y="215.60" width="1.3" height="6.40" fill="#d2002e"/>
<rect x="419.70" y="241.00" width="1.3" height="6.40" fill="#d2002e"/>
<rect x="417.25" y="221.25" width="6.2" height="20.50" fill="#d2002e"/>
<rect x="426.38" y="229.50" width="1.3" height="9.30" fill="#d2002e"/>
<rect x="423.93" y="238.05" width="6.2" height="36.10" fill="#d2002e"/>
<rect x="433.07" y="249.30" width="1.3" height="3.00" fill="#000000"/>
<rect x="433.07" y="259.30" width="1.3" height="10.90" fill="#000000"/>
<rect x="431.32" y="252.30" width="4.8" height="7.00" fill="none" stroke="#000000" stroke-width="1.55"/>
<rect x="439.76" y="264.90" width="1.3" height="2.00" fill="#d2002e"/>
<rect x="439.76" y="283.60" width="1.3" height="8.20" fill="#d2002e"/>
<rect x="437.31" y="266.15" width="6.2" height="18.20" fill="#d2002e"/>
<rect x="446.45" y="210.50" width="1.3" height="14.40" fill="#000000"/>
<rect x="446.45" y="264.40" width="1.3" height="3.50" fill="#000000"/>
<rect x="444.70" y="224.90" width="4.8" height="39.50" fill="none" stroke="#000000" stroke-width="1.55"/>
<rect x="453.14" y="224.40" width="1.3" height="1.00" fill="#000000"/>
<rect x="450.59" y="223.60" width="6.4" height="1.6" fill="#000000"/>
<rect x="459.82" y="212.00" width="1.3" height="3.10" fill="#000000"/>
<rect x="459.82" y="219.30" width="1.3" height="13.70" fill="#000000"/>
<rect x="458.07" y="215.10" width="4.8" height="4.20" fill="none" stroke="#000000" stroke-width="1.55"/>
<rect x="466.51" y="196.00" width="1.3" height="1.40" fill="#000000"/>
<rect x="466.51" y="227.40" width="1.3" height="2.80" fill="#000000"/>
<rect x="464.76" y="197.40" width="4.8" height="30.00" fill="none" stroke="#000000" stroke-width="1.55"/>
<rect x="473.20" y="190.00" width="1.3" height="2.30" fill="#000000"/>
<rect x="471.45" y="192.30" width="4.8" height="14.50" fill="none" stroke="#000000" stroke-width="1.55"/>
<rect x="479.89" y="188.10" width="1.3" height="0.90" fill="#d2002e"/>
<rect x="477.44" y="188.25" width="6.2" height="19.00" fill="#d2002e"/>
<rect x="486.58" y="200.90" width="1.3" height="7.00" fill="#d2002e"/>
<rect x="486.58" y="212.80" width="1.3" height="4.20" fill="#d2002e"/>
<rect x="484.13" y="207.15" width="6.2" height="6.40" fill="#d2002e"/>
<rect x="493.26" y="225.10" width="1.3" height="9.30" fill="#d2002e"/>
<rect x="493.26" y="238.60" width="1.3" height="4.00" fill="#d2002e"/>
<rect x="491.51" y="234.40" width="4.8" height="4.20" fill="none" stroke="#d2002e" stroke-width="1.55"/>
<rect x="499.95" y="194.90" width="1.3" height="1.10" fill="#000000"/>
<rect x="499.95" y="219.30" width="1.3" height="1.70" fill="#000000"/>
<rect x="498.20" y="196.00" width="4.8" height="23.30" fill="none" stroke="#000000" stroke-width="1.55"/>
<rect x="506.64" y="177.40" width="1.3" height="1.20" fill="#000000"/>
<rect x="506.64" y="184.40" width="1.3" height="7.00" fill="#000000"/>
<rect x="504.89" y="178.60" width="4.8" height="5.80" fill="none" stroke="#000000" stroke-width="1.55"/>
<rect x="513.33" y="168.10" width="1.3" height="12.40" fill="#d2002e"/>
<rect x="513.33" y="189.10" width="1.3" height="2.30" fill="#d2002e"/>
<rect x="510.88" y="179.75" width="6.2" height="10.10" fill="#d2002e"/>
<rect x="520.02" y="259.60" width="1.3" height="3.90" fill="#d2002e"/>
<rect x="517.57" y="232.05" width="6.2" height="28.30" fill="#d2002e"/>
<rect x="526.70" y="221.30" width="1.3" height="8.90" fill="#000000"/>
<rect x="526.70" y="237.90" width="1.3" height="9.00" fill="#000000"/>
<rect x="524.25" y="229.45" width="6.2" height="9.20" fill="#000000"/>
<rect x="533.39" y="250.50" width="1.3" height="42.80" fill="#d2002e"/>
<rect x="530.84" y="276.90" width="6.4" height="1.6" fill="#d2002e"/>
<rect x="540.08" y="252.10" width="1.3" height="6.70" fill="#d2002e"/>
<rect x="537.63" y="258.05" width="6.2" height="25.60" fill="#d2002e"/>
<rect x="546.77" y="267.20" width="1.3" height="8.40" fill="#000000"/>
<rect x="546.77" y="287.10" width="1.3" height="7.30" fill="#000000"/>
<rect x="545.02" y="275.60" width="4.8" height="11.50" fill="none" stroke="#000000" stroke-width="1.55"/>
<rect x="553.46" y="264.70" width="1.3" height="22.40" fill="#d2002e"/>
<rect x="551.01" y="286.35" width="6.2" height="41.80" fill="#d2002e"/>
<rect x="560.14" y="278.70" width="1.3" height="3.10" fill="#000000"/>
<rect x="560.14" y="303.20" width="1.3" height="10.00" fill="#000000"/>
<rect x="558.39" y="281.80" width="4.8" height="21.40" fill="none" stroke="#000000" stroke-width="1.55"/>
<rect x="566.83" y="258.40" width="1.3" height="1.50" fill="#000000"/>
<rect x="566.83" y="272.40" width="1.3" height="7.30" fill="#000000"/>
<rect x="565.08" y="259.90" width="4.8" height="12.50" fill="none" stroke="#000000" stroke-width="1.55"/>
<rect x="573.52" y="234.30" width="1.3" height="12.80" fill="#000000"/>
<rect x="571.77" y="247.10" width="4.8" height="8.10" fill="none" stroke="#000000" stroke-width="1.55"/>
<rect x="580.21" y="246.40" width="1.3" height="18.10" fill="#d2002e"/>
<rect x="577.66" y="257.20" width="6.4" height="1.6" fill="#d2002e"/>
<rect x="586.90" y="241.30" width="1.3" height="5.80" fill="#000000"/>
<rect x="586.90" y="256.40" width="1.3" height="17.40" fill="#000000"/>
<rect x="584.45" y="246.35" width="6.2" height="10.80" fill="#000000"/>
<rect x="593.58" y="287.30" width="1.3" height="4.00" fill="#d2002e"/>
<rect x="591.13" y="264.95" width="6.2" height="23.10" fill="#d2002e"/>
<rect x="600.27" y="264.50" width="1.3" height="24.50" fill="#000000"/>
<rect x="597.72" y="279.50" width="6.4" height="1.6" fill="#000000"/>
<rect x="606.96" y="258.70" width="1.3" height="10.00" fill="#000000"/>
<rect x="606.96" y="276.60" width="1.3" height="4.20" fill="#000000"/>
<rect x="605.21" y="268.70" width="4.8" height="7.90" fill="none" stroke="#000000" stroke-width="1.55"/>
<rect x="613.65" y="260.30" width="1.3" height="4.20" fill="#d2002e"/>
<rect x="613.65" y="287.80" width="1.3" height="3.50" fill="#d2002e"/>
<rect x="611.20" y="263.75" width="6.2" height="24.80" fill="#d2002e"/>
<rect x="620.34" y="290.20" width="1.3" height="7.00" fill="#d2002e"/>
<rect x="620.34" y="300.70" width="1.3" height="12.70" fill="#d2002e"/>
<rect x="618.59" y="297.20" width="4.8" height="3.50" fill="none" stroke="#d2002e" stroke-width="1.55"/>
<rect x="627.02" y="304.90" width="1.3" height="5.10" fill="#000000"/>
<rect x="625.27" y="288.60" width="4.8" height="16.30" fill="none" stroke="#000000" stroke-width="1.55"/>
<rect x="633.71" y="251.90" width="1.3" height="5.80" fill="#000000"/>
<rect x="633.71" y="274.00" width="1.3" height="1.60" fill="#000000"/>
<rect x="631.96" y="257.70" width="4.8" height="16.30" fill="none" stroke="#000000" stroke-width="1.55"/>
<rect x="640.40" y="257.70" width="1.3" height="3.00" fill="#d2002e"/>
<rect x="640.40" y="272.30" width="1.3" height="3.30" fill="#d2002e"/>
<rect x="637.95" y="259.95" width="6.2" height="13.10" fill="#d2002e"/>
<rect x="647.09" y="250.90" width="1.3" height="2.50" fill="#000000"/>
<rect x="647.09" y="262.10" width="1.3" height="9.80" fill="#000000"/>
<rect x="645.34" y="253.40" width="4.8" height="8.70" fill="none" stroke="#000000" stroke-width="1.55"/>
<rect x="653.78" y="253.40" width="1.3" height="3.10" fill="#d2002e"/>
<rect x="653.78" y="261.50" width="1.3" height="0.50" fill="#d2002e"/>
<rect x="651.33" y="255.75" width="6.2" height="6.50" fill="#d2002e"/>
<rect x="660.46" y="260.10" width="1.3" height="12.70" fill="#000000"/>
<rect x="658.01" y="256.85" width="6.2" height="4.00" fill="#000000"/>
<rect x="667.15" y="225.10" width="1.3" height="7.50" fill="#000000"/>
<rect x="665.40" y="232.60" width="4.8" height="16.00" fill="none" stroke="#000000" stroke-width="1.55"/>
<rect x="673.84" y="227.80" width="1.3" height="9.30" fill="#d2002e"/>
<rect x="673.84" y="243.50" width="1.3" height="2.90" fill="#d2002e"/>
<rect x="671.39" y="236.35" width="6.2" height="7.90" fill="#d2002e"/>
<rect x="680.53" y="242.30" width="1.3" height="3.20" fill="#d2002e"/>
<rect x="680.53" y="249.70" width="1.3" height="6.00" fill="#d2002e"/>
<rect x="678.78" y="245.50" width="4.8" height="4.20" fill="none" stroke="#d2002e" stroke-width="1.55"/>
<rect x="687.22" y="191.30" width="1.3" height="3.10" fill="#000000"/>
<rect x="685.47" y="194.40" width="4.8" height="42.10" fill="none" stroke="#000000" stroke-width="1.55"/>
<rect x="693.90" y="170.50" width="1.3" height="13.90" fill="#000000"/>
<rect x="691.35" y="178.30" width="6.4" height="1.6" fill="#000000"/>
<rect x="700.59" y="160.50" width="1.3" height="3.70" fill="#000000"/>
<rect x="700.59" y="181.60" width="1.3" height="5.90" fill="#000000"/>
<rect x="698.84" y="164.20" width="4.8" height="17.40" fill="none" stroke="#000000" stroke-width="1.55"/>
<rect x="707.28" y="148.10" width="1.3" height="10.50" fill="#000000"/>
<rect x="704.73" y="151.50" width="6.4" height="1.6" fill="#000000"/>
<rect x="713.97" y="124.90" width="1.3" height="12.80" fill="#000000"/>
<rect x="713.97" y="149.30" width="1.3" height="5.80" fill="#000000"/>
<rect x="712.22" y="137.70" width="4.8" height="11.60" fill="none" stroke="#000000" stroke-width="1.55"/>
<rect x="720.66" y="123.70" width="1.3" height="9.30" fill="#000000"/>
<rect x="720.66" y="136.00" width="1.3" height="2.80" fill="#000000"/>
<rect x="718.91" y="133.00" width="4.8" height="3.00" fill="none" stroke="#000000" stroke-width="1.55"/>
<rect x="727.34" y="131.90" width="1.3" height="8.80" fill="#d2002e"/>
<rect x="727.34" y="147.00" width="1.3" height="1.10" fill="#d2002e"/>
<rect x="724.89" y="139.95" width="6.2" height="7.80" fill="#d2002e"/>
<rect x="734.03" y="145.80" width="1.3" height="5.80" fill="#d2002e"/>
<rect x="734.03" y="156.30" width="1.3" height="4.60" fill="#d2002e"/>
<rect x="731.58" y="150.85" width="6.2" height="6.20" fill="#d2002e"/>
<rect x="740.72" y="145.80" width="1.3" height="5.10" fill="#d2002e"/>
<rect x="740.72" y="160.90" width="1.3" height="2.40" fill="#d2002e"/>
<rect x="738.27" y="150.15" width="6.2" height="11.50" fill="#d2002e"/>
<rect x="747.41" y="136.00" width="1.3" height="1.70" fill="#000000"/>
<rect x="747.41" y="154.00" width="1.3" height="9.30" fill="#000000"/>
<rect x="745.66" y="137.70" width="4.8" height="16.30" fill="none" stroke="#000000" stroke-width="1.55"/>
<rect x="754.10" y="100.60" width="1.3" height="2.00" fill="#000000"/>
<rect x="754.10" y="116.00" width="1.3" height="5.50" fill="#000000"/>
<rect x="752.35" y="102.60" width="4.8" height="13.40" fill="none" stroke="#000000" stroke-width="1.55"/>
<rect x="760.78" y="97.80" width="1.3" height="7.00" fill="#d2002e"/>
<rect x="760.78" y="117.60" width="1.3" height="1.80" fill="#d2002e"/>
<rect x="758.33" y="104.05" width="6.2" height="14.30" fill="#d2002e"/>
<rect x="767.47" y="108.30" width="1.3" height="5.10" fill="#000000"/>
<rect x="767.47" y="116.40" width="1.3" height="3.00" fill="#000000"/>
<rect x="765.72" y="113.40" width="4.8" height="3.00" fill="none" stroke="#000000" stroke-width="1.55"/>
<rect x="774.16" y="131.50" width="1.3" height="5.80" fill="#d2002e"/>
<rect x="774.16" y="147.80" width="1.3" height="5.10" fill="#d2002e"/>
<rect x="771.71" y="136.55" width="6.2" height="12.00" fill="#d2002e"/>
<rect x="780.85" y="152.00" width="1.3" height="11.60" fill="#d2002e"/>
<rect x="778.30" y="151.20" width="6.4" height="1.6" fill="#d2002e"/>
<rect x="787.54" y="130.30" width="1.3" height="3.10" fill="#000000"/>
<rect x="787.54" y="136.20" width="1.3" height="18.10" fill="#000000"/>
<rect x="785.79" y="133.40" width="4.8" height="2.80" fill="none" stroke="#000000" stroke-width="1.55"/>
<rect x="794.22" y="104.80" width="1.3" height="3.00" fill="#000000"/>
<rect x="794.22" y="132.70" width="1.3" height="5.30" fill="#000000"/>
<rect x="792.47" y="107.80" width="4.8" height="24.90" fill="none" stroke="#000000" stroke-width="1.55"/>
<rect x="800.91" y="110.40" width="1.3" height="3.80" fill="#d2002e"/>
<rect x="800.91" y="124.40" width="1.3" height="9.30" fill="#d2002e"/>
<rect x="798.46" y="113.45" width="6.2" height="11.70" fill="#d2002e"/>
<rect x="807.60" y="107.70" width="1.3" height="5.30" fill="#d2002e"/>
<rect x="807.60" y="134.00" width="1.3" height="1.60" fill="#d2002e"/>
<rect x="805.15" y="112.25" width="6.2" height="22.50" fill="#d2002e"/>
<rect x="814.29" y="120.00" width="1.3" height="5.30" fill="#000000"/>
<rect x="814.29" y="133.30" width="1.3" height="4.60" fill="#000000"/>
<rect x="811.84" y="124.55" width="6.2" height="9.50" fill="#000000"/>
<rect x="820.98" y="119.30" width="1.3" height="8.10" fill="#000000"/>
<rect x="819.23" y="127.40" width="4.8" height="18.20" fill="none" stroke="#000000" stroke-width="1.55"/>
<rect x="827.66" y="122.30" width="1.3" height="12.10" fill="#d2002e"/>
<rect x="827.66" y="140.20" width="1.3" height="8.20" fill="#d2002e"/>
<rect x="825.21" y="133.65" width="6.2" height="7.30" fill="#d2002e"/>
<rect x="834.35" y="108.80" width="1.3" height="7.00" fill="#000000"/>
<rect x="834.35" y="126.30" width="1.3" height="1.60" fill="#000000"/>
<rect x="832.60" y="115.80" width="4.8" height="10.50" fill="none" stroke="#000000" stroke-width="1.55"/>
<rect x="841.04" y="76.70" width="1.3" height="1.30" fill="#000000"/>
<rect x="841.04" y="121.60" width="1.3" height="1.70" fill="#000000"/>
<rect x="839.29" y="78.00" width="4.8" height="43.60" fill="none" stroke="#000000" stroke-width="1.55"/>
<rect x="847.73" y="75.50" width="1.3" height="10.60" fill="#d2002e"/>
<rect x="845.18" y="82.00" width="6.4" height="1.6" fill="#d2002e"/>
<rect x="854.42" y="63.30" width="1.3" height="7.30" fill="#000000"/>
<rect x="852.67" y="70.60" width="4.8" height="3.60" fill="none" stroke="#000000" stroke-width="1.55"/>
<rect x="861.10" y="71.40" width="1.3" height="16.30" fill="#d2002e"/>
<rect x="858.55" y="77.10" width="6.4" height="1.6" fill="#d2002e"/>
<rect x="863.84" y="35.10" width="9.3" height="47.40" fill="#f4f45c"/>
<rect x="867.79" y="36.40" width="1.3" height="3.30" fill="#000000"/>
<rect x="867.79" y="79.60" width="1.3" height="1.60" fill="#000000"/>
<rect x="866.04" y="39.70" width="4.8" height="39.90" fill="#f4f45c" stroke="#000000" stroke-width="1.55"/>
</g>
<rect x="23" y="30" width="160" height="14" fill="#fff"/>
<rect x="23" y="44" width="97" height="14" fill="#fff"/>
<rect x="23" y="58" width="104" height="14" fill="#fff"/>
<rect x="23" y="72" width="102" height="14" fill="#fff"/>
<g shape-rendering="crispEdges" fill="#000">
<rect x="26" y="33" width="3" height="6"/><rect x="27" y="31" width="1" height="10"/>
<rect x="29" y="35" width="4" height="6"/><rect x="31" y="40" width="1" height="2"/>
<rect x="33" y="33" width="4" height="7"/><rect x="35" y="31" width="1" height="11"/>
<rect x="27" y="34" width="1" height="4" fill="#fff"/><rect x="35" y="34" width="1" height="5" fill="#fff"/>
</g>
<text transform="translate(42,42) scale(1,1.1)" font-family="Liberation Sans, sans-serif" font-size="13" letter-spacing="1.6" fill="#000">$TNX (Daily) 20.42</text>
<rect x="25" y="49" width="12" height="3" fill="#1a1a9a" shape-rendering="crispEdges"/>
<text transform="translate(39.5,57) scale(1,1.1)" font-family="Liberation Sans, sans-serif" font-size="13" fill="#1a1a9a">MA(50) 16.51</text>
<rect x="25" y="64" width="12" height="3" fill="#d2002e" shape-rendering="crispEdges"/>
<text transform="translate(39.5,72) scale(1,1.1)" font-family="Liberation Sans, sans-serif" font-size="13" fill="#d2002e">MA(200) 15.08</text>
<g shape-rendering="crispEdges">
<rect x="25" y="78" width="4" height="7" fill="#3c3c3c"/><rect x="26" y="79" width="2" height="5" fill="#a0a0a0"/>
<rect x="29" y="74" width="4" height="11" fill="#3c3c3c"/><rect x="30" y="75" width="2" height="9" fill="#a0a0a0"/>
<rect x="33" y="77" width="4" height="8" fill="#3c3c3c"/><rect x="34" y="78" width="2" height="6" fill="#a0a0a0"/>
</g>
<text transform="translate(39.5,85) scale(1,1.1)" font-family="Liberation Sans, sans-serif" font-size="13" letter-spacing="0.25" fill="#4a4a4a">Volume undef</text>
<text x="38.5" y="414" font-family="Liberation Sans, sans-serif" font-size="13" text-anchor="middle" fill="#000" stroke="#000">16</text>
<text x="71.9" y="414" font-family="Liberation Sans, sans-serif" font-size="13" text-anchor="middle" fill="#000" stroke="#000">23</text>
<text x="138.8" y="414" font-family="Liberation Sans, sans-serif" font-size="13" text-anchor="middle" fill="#000" stroke="#000">7</text>
<text x="165.6" y="414" font-family="Liberation Sans, sans-serif" font-size="13" text-anchor="middle" fill="#000" stroke="#000">13</text>
<text x="199.0" y="414" font-family="Liberation Sans, sans-serif" font-size="13" text-anchor="middle" fill="#000" stroke="#000">20</text>
<text x="232.4" y="414" font-family="Liberation Sans, sans-serif" font-size="13" text-anchor="middle" fill="#000" stroke="#000">27</text>
<text x="299.3" y="414" font-family="Liberation Sans, sans-serif" font-size="13" text-anchor="middle" fill="#000" stroke="#000">11</text>
<text x="332.8" y="414" font-family="Liberation Sans, sans-serif" font-size="13" text-anchor="middle" fill="#000" stroke="#000">18</text>
<text x="366.2" y="414" font-family="Liberation Sans, sans-serif" font-size="13" text-anchor="middle" fill="#000" stroke="#000">25</text>
<text x="433.1" y="414" font-family="Liberation Sans, sans-serif" font-size="13" text-anchor="middle" fill="#000" stroke="#000">8</text>
<text x="466.5" y="414" font-family="Liberation Sans, sans-serif" font-size="13" text-anchor="middle" fill="#000" stroke="#000">15</text>
<text x="500.0" y="414" font-family="Liberation Sans, sans-serif" font-size="13" text-anchor="middle" fill="#000" stroke="#000">22</text>
<text x="560.1" y="414" font-family="Liberation Sans, sans-serif" font-size="13" text-anchor="middle" fill="#000" stroke="#000">6</text>
<text x="593.6" y="414" font-family="Liberation Sans, sans-serif" font-size="13" text-anchor="middle" fill="#000" stroke="#000">13</text>
<text x="627.0" y="414" font-family="Liberation Sans, sans-serif" font-size="13" text-anchor="middle" fill="#000" stroke="#000">20</text>
<text x="653.8" y="414" font-family="Liberation Sans, sans-serif" font-size="13" text-anchor="middle" fill="#000" stroke="#000">27</text>
<text x="720.7" y="414" font-family="Liberation Sans, sans-serif" font-size="13" text-anchor="middle" fill="#000" stroke="#000">10</text>
<text x="754.1" y="414" font-family="Liberation Sans, sans-serif" font-size="13" text-anchor="middle" fill="#000" stroke="#000">18</text>
<text x="780.8" y="414" font-family="Liberation Sans, sans-serif" font-size="13" text-anchor="middle" fill="#000" stroke="#000">24</text>
<text x="847.7" y="414" font-family="Liberation Sans, sans-serif" font-size="13" text-anchor="middle" fill="#000" stroke="#000">7</text>
<text transform="translate(119.4,414) scale(1,1.1)" font-family="Liberation Sans, sans-serif" font-size="14" letter-spacing="0.25" font-weight="bold" text-anchor="middle" fill="#000" stroke="#000">Sep</text>
<text transform="translate(259.9,414) scale(1,1.1)" font-family="Liberation Sans, sans-serif" font-size="14" letter-spacing="0.25" font-weight="bold" text-anchor="middle" fill="#000" stroke="#000">Oct</text>
<text transform="translate(400.3,414) scale(1,1.1)" font-family="Liberation Sans, sans-serif" font-size="14" letter-spacing="0.25" font-weight="bold" text-anchor="middle" fill="#000" stroke="#000">Nov</text>
<text transform="translate(540.8,414) scale(1,1.1)" font-family="Liberation Sans, sans-serif" font-size="14" letter-spacing="0.25" font-weight="bold" text-anchor="middle" fill="#000" stroke="#000">Dec</text>
<text transform="translate(686.5,414) scale(1,1.1)" font-family="Liberation Sans, sans-serif" font-size="14" letter-spacing="0.25" font-weight="bold" text-anchor="middle" fill="#000" stroke="#000">2022</text>
<text transform="translate(821.7,414) scale(1,1.1)" font-family="Liberation Sans, sans-serif" font-size="14" letter-spacing="0.25" font-weight="bold" text-anchor="middle" fill="#000" stroke="#000">Feb</text>
<text x="882.5" y="379.3" font-family="Liberation Sans, sans-serif" font-size="13" letter-spacing="0.8" fill="#000" stroke="#000">12.5</text>
<text x="882.5" y="352.5" font-family="Liberation Sans, sans-serif" font-size="13" letter-spacing="0.8" fill="#000" stroke="#000">13.0</text>
<text x="882.5" y="326.7" font-family="Liberation Sans, sans-serif" font-size="13" letter-spacing="0.8" fill="#000" stroke="#000">13.5</text>
<text x="882.5" y="301.9" font-family="Liberation Sans, sans-serif" font-size="13" letter-spacing="0.8" fill="#000" stroke="#000">14.0</text>
<text x="882.5" y="277.9" font-family="Liberation Sans, sans-serif" font-size="13" letter-spacing="0.8" fill="#000" stroke="#000">14.5</text>
<text x="882.5" y="254.7" font-family="Liberation Sans, sans-serif" font-size="13" letter-spacing="0.8" fill="#000" stroke="#000">15.0</text>
<text x="882.5" y="232.3" font-family="Liberation Sans, sans-serif" font-size="13" letter-spacing="0.8" fill="#000" stroke="#000">15.5</text>
<text x="882.5" y="210.6" font-family="Liberation Sans, sans-serif" font-size="13" letter-spacing="0.8" fill="#000" stroke="#000">16.0</text>
<text x="882.5" y="169.2" font-family="Liberation Sans, sans-serif" font-size="13" letter-spacing="0.8" fill="#000" stroke="#000">17.0</text>
<text x="882.5" y="149.4" font-family="Liberation Sans, sans-serif" font-size="13" letter-spacing="0.8" fill="#000" stroke="#000">17.5</text>
<text x="882.5" y="130.2" font-family="Liberation Sans, sans-serif" font-size="13" letter-spacing="0.8" fill="#000" stroke="#000">18.0</text>
<text x="882.5" y="111.4" font-family="Liberation Sans, sans-serif" font-size="13" letter-spacing="0.8" fill="#000" stroke="#000">18.5</text>
<text x="882.5" y="93.2" font-family="Liberation Sans, sans-serif" font-size="13" letter-spacing="0.8" fill="#000" stroke="#000">19.0</text>
<text x="882.5" y="75.5" font-family="Liberation Sans, sans-serif" font-size="13" letter-spacing="0.8" fill="#000" stroke="#000">19.5</text>
<text x="882.5" y="58.2" font-family="Liberation Sans, sans-serif" font-size="13" letter-spacing="0.8" fill="#000" stroke="#000">20.0</text>
<text x="883.5" y="10.7" font-family="Liberation Sans, sans-serif" font-size="13" letter-spacing="0.6" fill="#000" stroke="#000">10</text>
<path d="M875,38.85 L880,31.5 L919.5,31.5 L919.5,46.2 L880,46.2 Z" fill="#fff" stroke="#000" stroke-width="1.5"/>
<text x="881.5" y="44.0" font-family="Liberation Sans, sans-serif" font-weight="bold" font-size="14" fill="#000" stroke="#000">20.42</text>
<path d="M875,184.35 L880,177.5 L919.5,177.5 L919.5,191.2 L880,191.2 Z" fill="#fff" stroke="#1a1a9a" stroke-width="1.8"/>
<text x="882" y="189.0" font-family="Liberation Sans, sans-serif" font-size="13" letter-spacing="0.6" fill="#000" stroke="#000">16.51</text>
<path d="M875,245.8 L880,239 L919.5,239 L919.5,252.6 L880,252.6 Z" fill="#fff" stroke="#d2002e" stroke-width="1.8"/>
<text x="882" y="250.4" font-family="Liberation Sans, sans-serif" font-size="13" letter-spacing="0.6" fill="#000" stroke="#000">15.08</text>
<path d="M875,431.15 L880,423.8 L919.5,423.8 L919.5,438.5 L880,438.5 Z" fill="#fff" stroke="#000" stroke-width="1.5"/>
<text x="881.5" y="436.3" font-family="Liberation Sans, sans-serif" font-weight="bold" font-size="14" fill="#000" stroke="#000">0.813</text>
<rect x="23" y="419" width="290" height="11" fill="#fff"/>
<rect x="25" y="425" width="12" height="3" fill="#000" shape-rendering="crispEdges"/>
<text x="42.5" y="433.5" font-family="Liberation Sans, sans-serif" font-size="13" letter-spacing="1.63" fill="#000" stroke="#000">MACD(12,26,9) 0.813</text>
<text x="205" y="433.5" font-family="Liberation Sans, sans-serif" font-size="13" letter-spacing="1.8" fill="#ff0000" stroke="#ff0000">, 0.683</text>
<text x="258.5" y="433.5" font-family="Liberation Sans, sans-serif" font-size="13" letter-spacing="1.8" fill="#3399cc" stroke="#3399cc">, 0.130</text>
<polyline points="757,431 768,427 773,431" fill="none" stroke="#000" stroke-width="2.2"/>
</svg>
</body></html>
